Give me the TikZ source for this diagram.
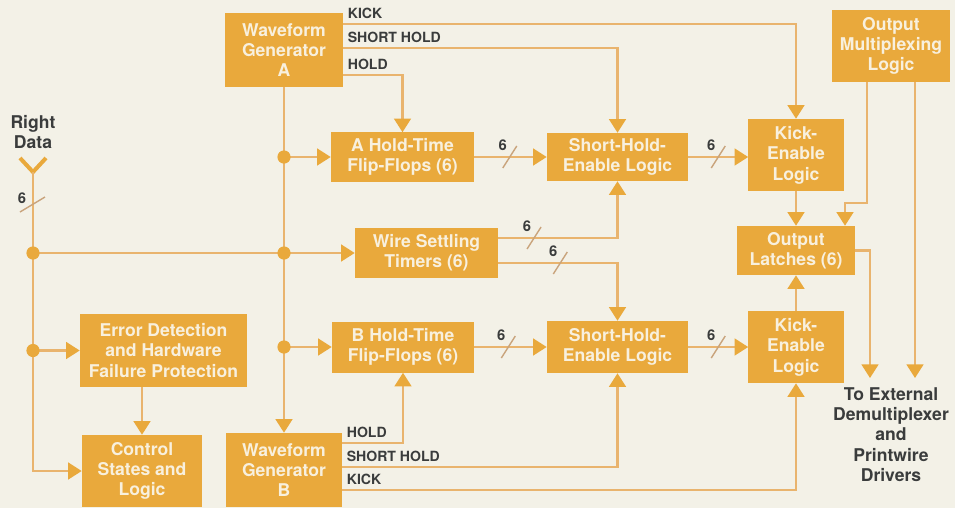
\documentclass[tikz,border=0pt]{standalone}
\usepackage{fontspec}
\setmainfont{TeX Gyre Heros}
\usepackage{xcolor}
\usepackage{tikz}
\usetikzlibrary{arrows.meta, positioning, calc}

\definecolor{paper}{HTML}{F3F1E7}
\definecolor{amber}{HTML}{E9A93C}
\definecolor{trace}{HTML}{E9B46E}
\definecolor{boxtext}{HTML}{F8F0DE}
\definecolor{ink}{HTML}{3A3C3C}
\definecolor{tick}{HTML}{C9A47C}

% bus width mark (slash + "6") on a horizontal line
\newcommand{\busmark}[1]{%
  \draw[slash] ($(#1)+(-7,11)$) -- ($(#1)+(7,-11)$);
  \node[num] at ($(#1)+(-7,-12)$) {6};}

\begin{document}
\begin{tikzpicture}[
  x=0.025cm, y=-0.025cm,
  block/.style={fill=amber, text=boxtext, align=center, inner sep=0pt,
                font=\bfseries\fontsize{12.5}{14.5}\selectfont},
  txt/.style={text=ink, align=center, inner sep=0pt,
              font=\bfseries\fontsize{12.5}{14.5}\selectfont},
  sig/.style={anchor=south west, text=ink, inner sep=2.5pt,
              font=\bfseries\fontsize{10}{12}\selectfont},
  num/.style={text=ink, inner sep=0pt, font=\bfseries\fontsize{10.5}{12}\selectfont},
  arr/.style={-{Triangle[length=0.34cm, width=0.42cm, color=amber]},
              trace, line width=1.5pt},
  slash/.style={tick, line width=1pt},
  dot/.style={circle, fill=amber, minimum size=0.33cm, inner sep=0pt}
]
\fill[paper] (0,0) rectangle (955,508);
\useasboundingbox (0,0) rectangle (955,508);

% blocks
\node[block, minimum width=2.95cm,  minimum height=1.85cm]  (wgA)   at (284,50)    {Waveform\\Generator\\A};
\node[block, minimum width=3.575cm, minimum height=1.225cm] (ahold) at (402.5,157) {A Hold-Time\\Flip-Flops (6)};
\node[block, minimum width=3.525cm, minimum height=1.2cm]   (shA)   at (617.5,157) {Short-Hold-\\Enable Logic};
\node[block, minimum width=2.375cm, minimum height=1.8cm]   (kickA) at (796,155)   {Kick-\\Enable\\Logic};
\node[block, minimum width=2.95cm,  minimum height=1.8cm]   (omux)  at (891,46)    {Output\\Multiplexing\\Logic};
\node[block, minimum width=2.925cm, minimum height=1.225cm] (latch) at (796,250.5) {Output\\Latches (6)};
\node[block, minimum width=3.575cm, minimum height=1.25cm]  (wire)  at (426.5,253) {Wire Settling\\Timers (6)};
\node[block, minimum width=3.55cm,  minimum height=1.275cm] (bhold) at (403,347)   {B Hold-Time\\Flip-Flops (6)};
\node[block, minimum width=3.525cm, minimum height=1.3cm]   (shB)   at (617.5,347) {Short-Hold-\\Enable Logic};
\node[block, minimum width=2.375cm, minimum height=1.8cm]   (kickB) at (796,347)   {Kick-\\Enable\\Logic};
\node[block, minimum width=4.175cm, minimum height=1.825cm] (err)   at (163.5,350.5) {Error Detection\\and Hardware\\Failure Protection};
\node[block, minimum width=3.0cm,   minimum height=1.8cm]   (ctrl)  at (142,471)   {Control\\States and\\Logic};
\node[block, minimum width=2.9cm,   minimum height=1.85cm]  (wgB)   at (284,470)   {Waveform\\Generator\\B};

\node[txt] (rdata) at (33,132) {Right\\Data};
\node[txt, anchor=north] (ext) at (891,387) {To External\\Demultiplexer\\and\\Printwire\\Drivers};

% junctions
\coordinate (rd) at (33,172);
\coordinate (jA) at (wgA.south |- ahold.west);
\coordinate (jW) at (wgA.south |- wire.west);
\coordinate (jB) at (wgA.south |- bhold.west);
\coordinate (rW) at (rd |- wire.west);
\coordinate (rE) at (rd |- err.west);

% right data input
\draw[amber, line width=0.1cm] ($(rd)+(-13,-14)$) -- (rd) -- ($(rd)+(13,-14)$);
\draw[arr] (rd) |- (ctrl.west);
\draw[slash] ($(rd)+(-13,40)$) -- ($(rd)+(12,25)$);
\node[num] at ($(rd)+(-11,26)$) {6};
\draw[arr] (rW) -- (wire.west);
\draw[arr] (rE) -- (err.west);
\draw[arr] (err.south -| ctrl.north) -- (ctrl.north);

% waveform generators
\draw[arr] (wgA) -- (wgB);
\draw[arr] (jA) -- (ahold.west);
\draw[arr] (jB) -- (bhold.west);
\draw[arr] ($(wgA.north east)+(0,11)$) node[sig] {KICK} -| (kickA.north);
\draw[arr] ($(wgA.north east)+(0,35)$) node[sig] {SHORT HOLD} -| (shA.north);
\draw[arr] ($(wgA.north east)+(0,62)$) node[sig] {HOLD} -| (ahold.north);
\draw[arr] ($(wgB.north east)+(0,10)$) node[sig] {HOLD} -| (bhold.south);
\draw[arr] ($(wgB.north east)+(0,34)$) node[sig] {SHORT HOLD} -| (shB.south);
\draw[arr] ($(wgB.north east)+(0,57)$) node[sig] {KICK} -| (kickB.south);

% data path
\draw[arr] (ahold) -- coordinate[pos=.49] (bus1) (shA);
\draw[arr] (shA.east) -- coordinate[pos=.5] (bus2) (shA.east -| kickA.west);
\draw[arr] (bhold) -- coordinate[pos=.47] (bus3) (shB);
\draw[arr] (shB) -- coordinate[pos=.5] (bus4) (kickB);
\draw[arr] ($(wire.east)+(0,-15)$) -| coordinate[pos=.15] (bus5) (shA.south);
\draw[arr] ($(wire.east)+(0,10)$) -| coordinate[pos=.26] (bus6) (shB.north);
\busmark{bus1}
\busmark{bus2}
\busmark{bus3}
\busmark{bus4}
\busmark{bus5}
\busmark{bus6}

% output side
\draw[arr] (kickA) -- (latch);
\draw[arr] (kickB) -- (latch);
\draw[arr] ($(omux.south)+(-24,0)$) -- ++(0,121) -| ($(latch.north)+(49,0)$);
\draw[arr] ($(omux.south)+(24,0)$) -- ($(ext.north)+(24,-9)$);
\draw[arr] (latch.east) -| ($(ext.north)+(-21,-9)$);

% dots
\node[dot] at (jA) {};
\node[dot] at (jW) {};
\node[dot] at (jB) {};
\node[dot] at (rW) {};
\node[dot] at (rE) {};
\end{tikzpicture}
\end{document}
